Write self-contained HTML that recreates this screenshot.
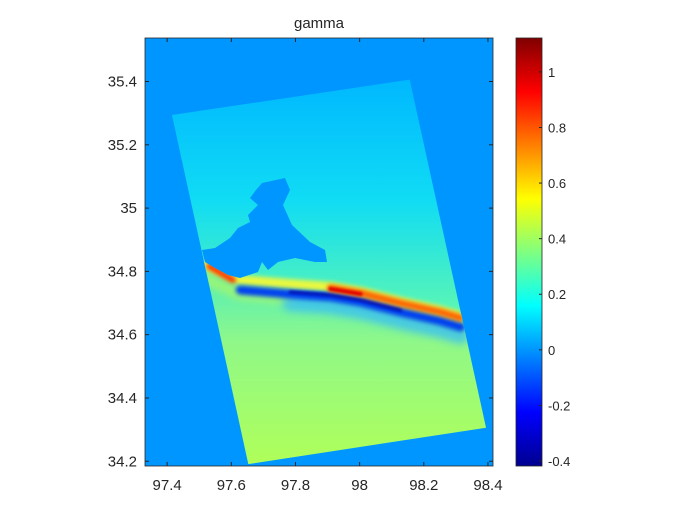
<!DOCTYPE html>
<html><head><meta charset="utf-8">
<style>
body{margin:0;background:#fff;width:700px;height:525px;overflow:hidden;font-family:"Liberation Sans",sans-serif}
svg text{font-family:"Liberation Sans",sans-serif;fill:#262626}
</style></head>
<body>
<svg id="chart" width="700" height="525" viewBox="0 0 700 525" xmlns="http://www.w3.org/2000/svg">
<defs>
<linearGradient id="jet" x1="0" y1="1" x2="0" y2="0">
<stop offset="0" stop-color="#00008F"/><stop offset="0.125" stop-color="#0000FF"/>
<stop offset="0.375" stop-color="#00FFFF"/><stop offset="0.625" stop-color="#FFFF00"/>
<stop offset="0.875" stop-color="#FF0000"/><stop offset="1" stop-color="#800000"/>
</linearGradient>
<linearGradient id="upper" gradientUnits="userSpaceOnUse" x1="0" y1="80" x2="0" y2="320">
<stop offset="0" stop-color="#00B8FF"/><stop offset="0.5" stop-color="#10DCF4"/>
<stop offset="1" stop-color="#60F8B0"/>
</linearGradient>
<linearGradient id="lower" gradientUnits="userSpaceOnUse" x1="0" y1="290" x2="0" y2="466">
<stop offset="0" stop-color="#60F0B0"/><stop offset="0.3" stop-color="#90F888"/>
<stop offset="1" stop-color="#B0FF58"/>
</linearGradient>
<clipPath id="swathClip"><polygon id="swathClipPoly"/></clipPath>
<filter id="blur4" x="-50%" y="-200%" width="200%" height="500%"><feGaussianBlur stdDeviation="4"/></filter>
<filter id="blur2" x="-50%" y="-200%" width="200%" height="500%"><feGaussianBlur stdDeviation="2"/></filter>
<filter id="blur1" x="-50%" y="-200%" width="200%" height="500%"><feGaussianBlur stdDeviation="1.2"/></filter>
</defs>
<g id="plot"></g>
<text x="319" y="28" font-size="15" text-anchor="middle">gamma</text>
</svg>
<script>
const xTicks=[97.4,97.6,97.8,98,98.2,98.4];
const yTicks=[34.2,34.4,34.6,34.8,35,35.2,35.4];
const cTicks=[-0.4,-0.2,0,0.2,0.4,0.6,0.8,1];
const swathLon=[97.415,98.156,98.394,97.653];
const swathLat=[35.294,35.406,34.306,34.191];
const faultLon=[97.518,97.628,97.784,97.909,98.003,98.128,98.252,98.315];
const faultLat=[34.804,34.757,34.744,34.735,34.719,34.687,34.659,34.640];
const cMin=-0.418,cMax=1.122;

const AX={l:145,t:38,r:493,b:466};
const xMin=97.331,xMax=98.4157,yMin=34.185,yMax=35.5375;
const sx=v=>AX.l+(v-xMin)/(xMax-xMin)*(AX.r-AX.l);
const sy=v=>AX.b-(v-yMin)/(yMax-yMin)*(AX.b-AX.t);
const CB={l:516,r:542,t:38,b:466};
const sc=v=>CB.b-(v-cMin)/(cMax-cMin)*(CB.b-CB.t);
const NS="http://www.w3.org/2000/svg";
const plot=document.getElementById('plot');
function mk(tag,attrs,parent){const e=document.createElementNS(NS,tag);for(const k in attrs)e.setAttribute(k,attrs[k]);(parent||plot).appendChild(e);return e;}

const bg=mk('rect',{x:AX.l,y:AX.t,width:AX.r-AX.l,height:AX.b-AX.t,fill:'#0096FF'});



const pts=swathLon.map((lo,i)=>sx(lo)+','+sy(swathLat[i])).join(' ');
document.getElementById('swathClipPoly').setAttribute('points',pts);
const sw=mk('g',{'clip-path':'url(#swathClip)'});



const fp=faultLon.map((lo,i)=>[sx(lo),sy(faultLat[i])]);
const n=fp.length;
const first=fp[0],last=fp[n-1],prev=fp[n-2];
const slope=(last[1]-prev[1])/(last[0]-prev[0]);
const ext=[[0,first[1]],...fp,[700,last[1]+(700-last[0])*slope]];
const fpath=(i0,i1,dy)=>fp.slice(i0,i1+1).map((p,k)=>(k?'L':'M')+p[0]+','+(p[1]+dy)).join(' ');
const lineStr=ext.map(p=>p[0]+','+p[1]).join(' ');
const lineRev=ext.slice().reverse().map(p=>p[0]+','+p[1]).join(' ');
mk('polygon',{points:`0,0 700,0 ${lineRev}`,fill:'url(#upper)'},sw);
mk('polygon',{points:`0,525 700,525 ${lineRev}`,fill:'url(#lower)'},sw);
const rc={fill:'none','stroke-linecap':'round','stroke-linejoin':'round'};
// yellow halo above fault
mk('path',{d:fpath(0,n-1,-5),stroke:'#E8F840',"stroke-width":10,filter:'url(#blur2)',...rc},sw);
// yellow-green lower left near fault
mk('path',{d:fpath(0,2,9),stroke:'#B0F860',"stroke-width":12,filter:'url(#blur4)',opacity:0.7,...rc},sw);
// light blue halo below
mk('path',{d:fpath(2,n-1,14),stroke:'#30B8FF',"stroke-width":16,filter:'url(#blur4)',opacity:0.7,...rc},sw);
// blue band
const blue=mk('path',{d:fpath(1,n-1,5),stroke:'#0040F0',"stroke-width":9,filter:'url(#blur2)',...rc},sw);


mk('path',{d:fpath(2,5,3),stroke:'#0010B0',"stroke-width":3,filter:'url(#blur1)',...rc},sw);
// orange/red band above
const band=mk('path',{d:fpath(3,n-1,-4),stroke:'#FF6000',"stroke-width":7,filter:'url(#blur2)',...rc},sw);


mk('path',{d:fpath(3,4,-3),stroke:'#E00000',"stroke-width":4,filter:'url(#blur1)',...rc},sw);
// left red blob
mk('path',{d:`M${first[0]+4},${first[1]-4} L${first[0]+28},${first[1]+10}`,stroke:'#FF3000',"stroke-width":6,filter:'url(#blur2)',...rc},sw);
// shadow region
const sh=mk('path',{d:'M262,183 L285,178 L290,190 L283,205 L292,225 L310,242 L325,250 L327,262 L315,262 L295,258 L278,262 L268,270 L262,262 L258,272 L240,278 L228,275 L215,268 L205,262 L202,250 L215,248 L230,238 L238,228 L250,222 L248,215 L258,205 L250,198 L256,190 Z',fill:'#0096FF'},sw);



const frame=mk('rect',{x:AX.l,y:AX.t,width:AX.r-AX.l,height:AX.b-AX.t,fill:'none',stroke:'#262626','stroke-width':0.8});


xTicks.forEach(v=>{const x=sx(v);
 mk('line',{x1:x,x2:x,y1:AX.b,y2:AX.b-4,stroke:'#262626'});
 mk('line',{x1:x,x2:x,y1:AX.t,y2:AX.t+4,stroke:'#262626'});
 const t=mk('text',{x:x,y:AX.b+24,'font-size':15,'text-anchor':'middle'});t.textContent=v;
 
 });
yTicks.forEach(v=>{const y=sy(v);
 mk('line',{x1:AX.l,x2:AX.l+4,y1:y,y2:y,stroke:'#262626'});
 mk('line',{x1:AX.r,x2:AX.r-4,y1:y,y2:y,stroke:'#262626'});
 const t=mk('text',{x:AX.l-8,y:y+5,'font-size':15,'text-anchor':'end'});t.textContent=v;
 
 });
const cb=mk('rect',{x:CB.l,y:CB.t,width:CB.r-CB.l,height:CB.b-CB.t,fill:'url(#jet)',stroke:'#262626','stroke-width':0.8});


cTicks.forEach(v=>{const y=sc(v);
 mk('line',{x1:CB.r,x2:CB.r-3,y1:y,y2:y,stroke:'#262626'});
 const t=mk('text',{x:CB.r+6,y:y+5,'font-size':13}); t.textContent=v;
 
 });
</script>
</body></html>
